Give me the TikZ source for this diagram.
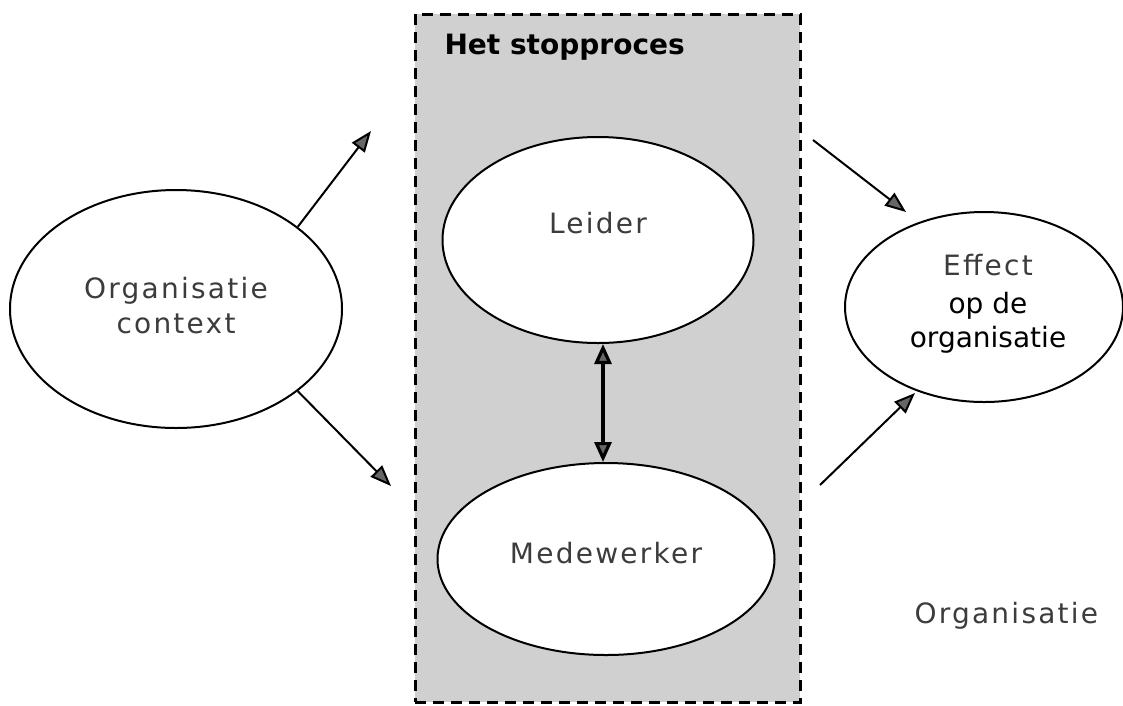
\documentclass[tikz,border=0pt]{standalone}
\usepackage{fontspec}
\setmainfont{DejaVu Sans}
\newfontfamily\spacedfont[LetterSpace=8]{DejaVu Sans}
\usetikzlibrary{shapes.geometric,arrows.meta}
\definecolor{boxfill}{HTML}{D0D0D0}
\definecolor{labelgray}{HTML}{3C3C3C}
\begin{document}
\begin{tikzpicture}[x=1pt,y=-1pt,
  oval/.style={ellipse,draw=black,line width=2pt,fill=white,inner sep=0pt},
  lbl/.style={anchor=base,text=labelgray,font=\spacedfont\fontsize{28}{35}\selectfont},
  plainlbl/.style={anchor=base,font=\fontsize{28}{35}\selectfont},
  flow/.style={line width=2pt,-{Triangle[length=21pt,width=16pt,fill=black!60]}},
  both/.style={line width=3.2pt,{Triangle[length=20pt,width=17pt,fill=black!60]}-{Triangle[length=20pt,width=17pt,fill=black!60]}}]
  \useasboundingbox (0,0) rectangle (1123,705);

  % process container
  \node[draw=black,dash pattern=on 11pt off 7pt,line width=3pt,fill=boxfill,
        minimum width=385pt,minimum height=688pt,inner sep=0pt] (proc) at (607.5,358) {};
  \node[anchor=base west,font=\bfseries\fontsize{28}{32}\selectfont] (title) at (441,54) {Het stopproces};

  % ellipses
  \node[oval,minimum width=332pt,minimum height=238pt] (ctx) at (176,309) {};
  \node[oval,minimum width=311pt,minimum height=206pt] (leider) at (598,240) {};
  \node[oval,minimum width=337pt,minimum height=192pt] (mw) at (606,559) {};
  \node[oval,minimum width=278pt,minimum height=190pt] (eff) at (984,307) {};

  % labels
  \node[lbl] (ctxa) at (176,298) {Organisatie};
  \node[lbl] (ctxb) at (176,333) {context};
  \node[lbl] (leidert) at (598,233) {Leider};
  \node[lbl] (mwt) at (606,563) {Medewerker};
  \node[lbl] (effa) at (988,275) {Effect};
  \node[plainlbl] (effb) at (988,313) {op de};
  \node[plainlbl] (effc) at (988,347) {organisatie};
  \node[lbl,anchor=base west] (org) at (911,623) {Organisatie};

  % free arrow ends
  \coordinate (inA) at (371,131);
  \coordinate (inB) at (391,486);
  \coordinate (outA) at (813,140);
  \coordinate (outAend) at (906,212);
  \coordinate (outB) at (820,485);
  \coordinate (outBend) at (915,393);

  % connectors
  \draw[flow] (ctx.34) -- (inA);
  \draw[flow] (ctx.-34) -- (inB);
  \draw[flow] (outA) -- (outAend);
  \draw[flow] (outB) -- (outBend);
  \draw[both] (leider.south -| 603,0) -- (mw.north -| 603,0);
\end{tikzpicture}
\end{document}
